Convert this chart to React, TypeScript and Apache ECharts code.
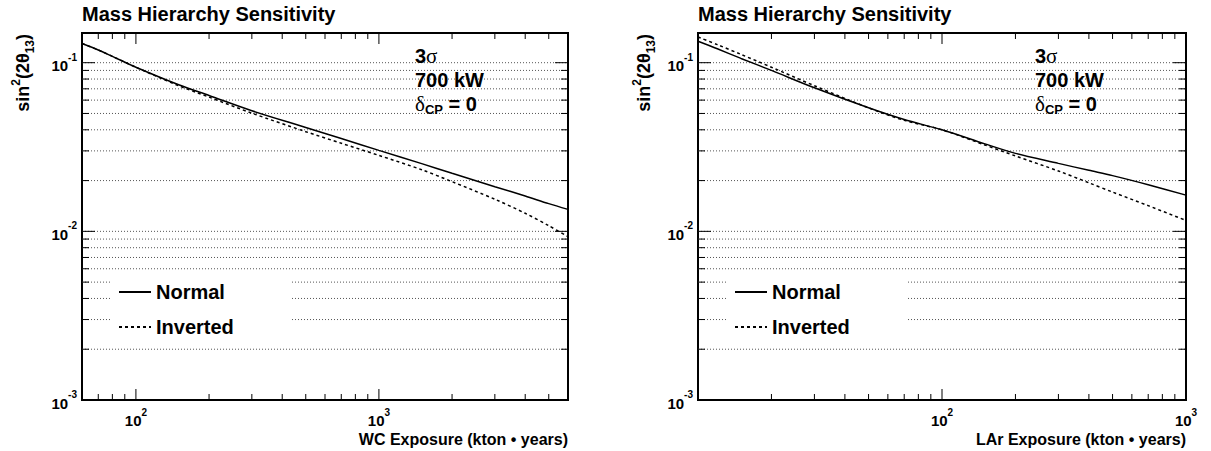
import React, { useEffect, useRef } from "react";
import * as echarts from "echarts";

// ---------------- data ----------------
const wcExposure = [60, 70, 80, 100, 150, 200, 300, 500, 700, 1000, 1500, 2000, 3000, 4000, 5000, 6000];
const wcNormal = [0.13, 0.119, 0.109, 0.094, 0.074, 0.0639, 0.0519, 0.0413, 0.0355, 0.0302, 0.0252, 0.0221, 0.0184, 0.0162, 0.0146, 0.0135];
const wcInverted = [0.13, 0.119, 0.109, 0.094, 0.073, 0.0625, 0.0502, 0.039, 0.0333, 0.0282, 0.0232, 0.0197, 0.0155, 0.0128, 0.0108, 0.0093];

const larExposure = [10, 12, 15, 20, 30, 50, 70, 100, 150, 200, 300, 400, 500, 700, 1000];
const larNormal = [0.134, 0.121, 0.106, 0.09, 0.071, 0.054, 0.046, 0.04, 0.033, 0.029, 0.0253, 0.023, 0.0214, 0.0189, 0.0164];
const larInverted = [0.142, 0.128, 0.112, 0.094, 0.073, 0.054, 0.0455, 0.04, 0.0325, 0.028, 0.0228, 0.0194, 0.0171, 0.0142, 0.0116];

const wcRange = [60, 6000];
const larRange = [10, 1000];
const yRange = [0.001, 0.15];

const wcLabelTicks = [100, 1000];
const larLabelTicks = [100, 1000];
const yLabelTicks = [0.001, 0.01, 0.1];

const wcMajorTicks = [100, 1000];
const wcMinorTicks = [70, 80, 90, 200, 300, 400, 500, 600, 700, 800, 900, 2000, 3000, 4000, 5000];
const larMajorTicks = [100];
const larMinorTicks = [20, 30, 40, 50, 60, 70, 80, 90, 200, 300, 400, 500, 600, 700, 800, 900];
const yMajorTicks = [0.01, 0.1];
const yMinorTicks = [0.002, 0.003, 0.004, 0.005, 0.006, 0.007, 0.008, 0.009, 0.02, 0.03, 0.04, 0.05, 0.06, 0.07, 0.08, 0.09];
const yGridValues = [...yMinorTicks, ...yMajorTicks];

const seriesNames = ["Normal", "Inverted"];
const chartTitle = "Mass Hierarchy Sensitivity";
const wcTitle = "WC Exposure (kton \u2022 years)";
const larTitle = "LAr Exposure (kton \u2022 years)";
const notes = ["{n|3}{g|\u03c3}", "{n|700 kW}", "{g|\u03b4}{u|CP}{n| = 0}"];
const yTitleRich = "{t|sin}{s|2}{t|(2\u03b8}{u|13}{t|)}";

// ---------------- styling ----------------
const FONT = "'Liberation Sans', Arial, Helvetica, sans-serif";
const SERIF = "'Liberation Serif', 'DejaVu Serif', serif";

const richPow = {
  b: { fontSize: 15, fontWeight: "bold", fontFamily: FONT, color: "#000", lineHeight: 21, verticalAlign: "bottom" },
  s: { fontSize: 10, fontWeight: "bold", fontFamily: FONT, color: "#000", verticalAlign: "top" },
};

function powFormatter(allowed: number[]) {
  return (v: number) => {
    const ok = allowed.some((a) => Math.abs(Math.log10(v) - Math.log10(a)) < 1e-6);
    if (!ok) return "";
    return `{b|10}{s|${Math.round(Math.log10(v))}}`;
  };
}

function tickSeries(gi: number, values: number[], dir: "x" | "y", len: number, xr: number[], yr: number[]) {
  return {
    type: "custom",
    xAxisIndex: gi,
    yAxisIndex: gi,
    silent: true,
    clip: false,
    z: 5,
    data: values.map((v) => (dir === "x" ? [v, yr[0]] : [xr[0], v])),
    renderItem: (_p: any, api: any) => {
      const st = { stroke: "#000", lineWidth: 1 };
      if (dir === "x") {
        const v = api.value(0);
        const b = api.coord([v, yr[0]]);
        const t = api.coord([v, yr[1]]);
        return {
          type: "group",
          children: [
            { type: "line", shape: { x1: b[0], y1: b[1], x2: b[0], y2: b[1] - len }, style: st },
            { type: "line", shape: { x1: t[0], y1: t[1], x2: t[0], y2: t[1] + len }, style: st },
          ],
        };
      }
      const v = api.value(1);
      const l = api.coord([xr[0], v]);
      const r = api.coord([xr[1], v]);
      return {
        type: "group",
        children: [
          { type: "line", shape: { x1: l[0], y1: l[1], x2: l[0] + len, y2: l[1] }, style: st },
          { type: "line", shape: { x1: r[0], y1: r[1], x2: r[0] - len, y2: r[1] }, style: st },
        ],
      };
    },
  };
}

function gridSeries(gi: number, xr: number[]) {
  return {
    type: "custom",
    xAxisIndex: gi,
    yAxisIndex: gi,
    silent: true,
    clip: false,
    z: 1,
    data: yGridValues.map((v) => [xr[0], v]),
    renderItem: (_p: any, api: any) => {
      const v = api.value(1);
      const l = api.coord([xr[0], v]);
      const r = api.coord([xr[1], v]);
      return {
        type: "line",
        shape: { x1: l[0], y1: l[1], x2: r[0], y2: r[1] },
        style: { stroke: "#555", lineWidth: 1, lineDash: [1, 2] },
      };
    },
  };
}

function xAxisCfg(gi: number, xr: number[], labels: number[], name: string) {
  return {
    type: "log",
    logBase: 10,
    gridIndex: gi,
    min: xr[0],
    max: xr[1],
    axisLine: { show: false },
    axisTick: { show: false },
    splitLine: { show: false },
    axisLabel: { formatter: powFormatter(labels), rich: richPow, margin: 7 },
    name,
    nameLocation: "end",
    nameGap: 0,
    nameTextStyle: {
      align: "right",
      verticalAlign: "top",
      padding: [31, 0, 0, 0],
      fontSize: 16,
      fontWeight: "bold",
      fontFamily: FONT,
      color: "#000",
    },
  };
}

function yAxisCfg(gi: number) {
  return {
    type: "log",
    logBase: 10,
    gridIndex: gi,
    min: yRange[0],
    max: yRange[1],
    axisLine: { show: false },
    axisTick: { show: false },
    splitLine: { show: false },
    axisLabel: { formatter: powFormatter(yLabelTicks), rich: richPow, margin: 5 },
  };
}

function lineSeries(gi: number, xs: number[], ys: number[], name: string, dashed: boolean) {
  return {
    type: "line",
    name,
    xAxisIndex: gi,
    yAxisIndex: gi,
    data: xs.map((x, i) => [x, ys[i]]),
    symbol: "none",
    smooth: 0.3,
    z: 3,
    lineStyle: { color: "#000", width: 1.5, type: dashed ? [3, 3] : "solid" },
    itemStyle: { color: "#000" },
  };
}

function legendCfg(left: number) {
  return {
    data: seriesNames,
    left,
    top: 276,
    orient: "vertical",
    itemWidth: 32,
    itemHeight: 20,
    itemGap: 15,
    itemTextGap: 7,
    padding: [6, 58, 6, 6],
    backgroundColor: "#fff",
    selectedMode: false,
    itemStyle: { opacity: 0, color: "rgba(0,0,0,0)", borderWidth: 0 },
    textStyle: { fontSize: 20, fontWeight: "bold", fontFamily: FONT, color: "#000" },
  };
}

const noteRich = {
  n: { fontSize: 20, fontWeight: "bold", fontFamily: FONT, fill: "#000", lineHeight: 24, verticalAlign: "middle" },
  g: { fontSize: 21, fontFamily: SERIF, fill: "#000", verticalAlign: "middle" },
  u: { fontSize: 13, fontWeight: "bold", fontFamily: FONT, fill: "#000", verticalAlign: "bottom" },
};

const yTitleStyle = {
  t: { fontSize: 18, fontWeight: "bold", fontFamily: FONT, fill: "#000", lineHeight: 26, verticalAlign: "middle" },
  s: { fontSize: 12, fontWeight: "bold", fontFamily: FONT, fill: "#000", verticalAlign: "top" },
  u: { fontSize: 12, fontWeight: "bold", fontFamily: FONT, fill: "#000", verticalAlign: "bottom" },
};

function noteTexts(x: number) {
  const ys = [56, 80, 104];
  return notes.map((t, i) => ({
    type: "text",
    x,
    y: ys[i],
    z: 10,
    style: { text: t, rich: noteRich, align: "left", verticalAlign: "middle" },
  }));
}

function yTitle(x: number, y: number) {
  return {
    type: "text",
    x,
    y,
    rotation: Math.PI / 2,
    z: 10,
    style: { text: yTitleRich, rich: yTitleStyle, align: "right", verticalAlign: "middle" },
  };
}

export default function App() {
  const ref = useRef<HTMLDivElement>(null);
  useEffect(() => {
    document.body.style.margin = "0";
    if (!ref.current) return;
    const chart = echarts.init(ref.current, null, { renderer: "svg" });
    const titleStyle = { fontSize: 20, fontWeight: "bold", fontFamily: FONT, color: "#000" };
    const option: any = {
      animation: false,
      backgroundColor: "#fff",
      textStyle: { fontFamily: FONT },
      title: [
        { text: chartTitle, left: 82, top: 4, padding: 0, textStyle: titleStyle },
        { text: chartTitle, left: 698, top: 4, padding: 0, textStyle: titleStyle },
      ],
      grid: [
        { left: 82, top: 33, width: 486, height: 367, show: true, borderColor: "#000", borderWidth: 2, backgroundColor: "transparent" },
        { left: 698, top: 33, width: 488, height: 367, show: true, borderColor: "#000", borderWidth: 2, backgroundColor: "transparent" },
      ],
      xAxis: [xAxisCfg(0, wcRange, wcLabelTicks, wcTitle), xAxisCfg(1, larRange, larLabelTicks, larTitle)],
      yAxis: [yAxisCfg(0), yAxisCfg(1)],
      legend: [legendCfg(112), legendCfg(728)],
      graphic: [...noteTexts(415), ...noteTexts(1035), yTitle(23, 34), yTitle(644, 34)],
      series: [
        gridSeries(0, wcRange),
        gridSeries(1, larRange),
        tickSeries(0, wcMajorTicks, "x", 11, wcRange, yRange),
        tickSeries(0, wcMinorTicks, "x", 6, wcRange, yRange),
        tickSeries(0, yMajorTicks, "y", 13, wcRange, yRange),
        tickSeries(0, yMinorTicks, "y", 7, wcRange, yRange),
        tickSeries(1, larMajorTicks, "x", 11, larRange, yRange),
        tickSeries(1, larMinorTicks, "x", 6, larRange, yRange),
        tickSeries(1, yMajorTicks, "y", 13, larRange, yRange),
        tickSeries(1, yMinorTicks, "y", 7, larRange, yRange),
        lineSeries(0, wcExposure, wcNormal, seriesNames[0], false),
        lineSeries(0, wcExposure, wcInverted, seriesNames[1], true),
        lineSeries(1, larExposure, larNormal, seriesNames[0], false),
        lineSeries(1, larExposure, larInverted, seriesNames[1], true),
      ],
    };
    chart.setOption(option);
    return () => chart.dispose();
  }, []);
  return <div ref={ref} style={{ width: 1211, height: 451 }} />;
}
